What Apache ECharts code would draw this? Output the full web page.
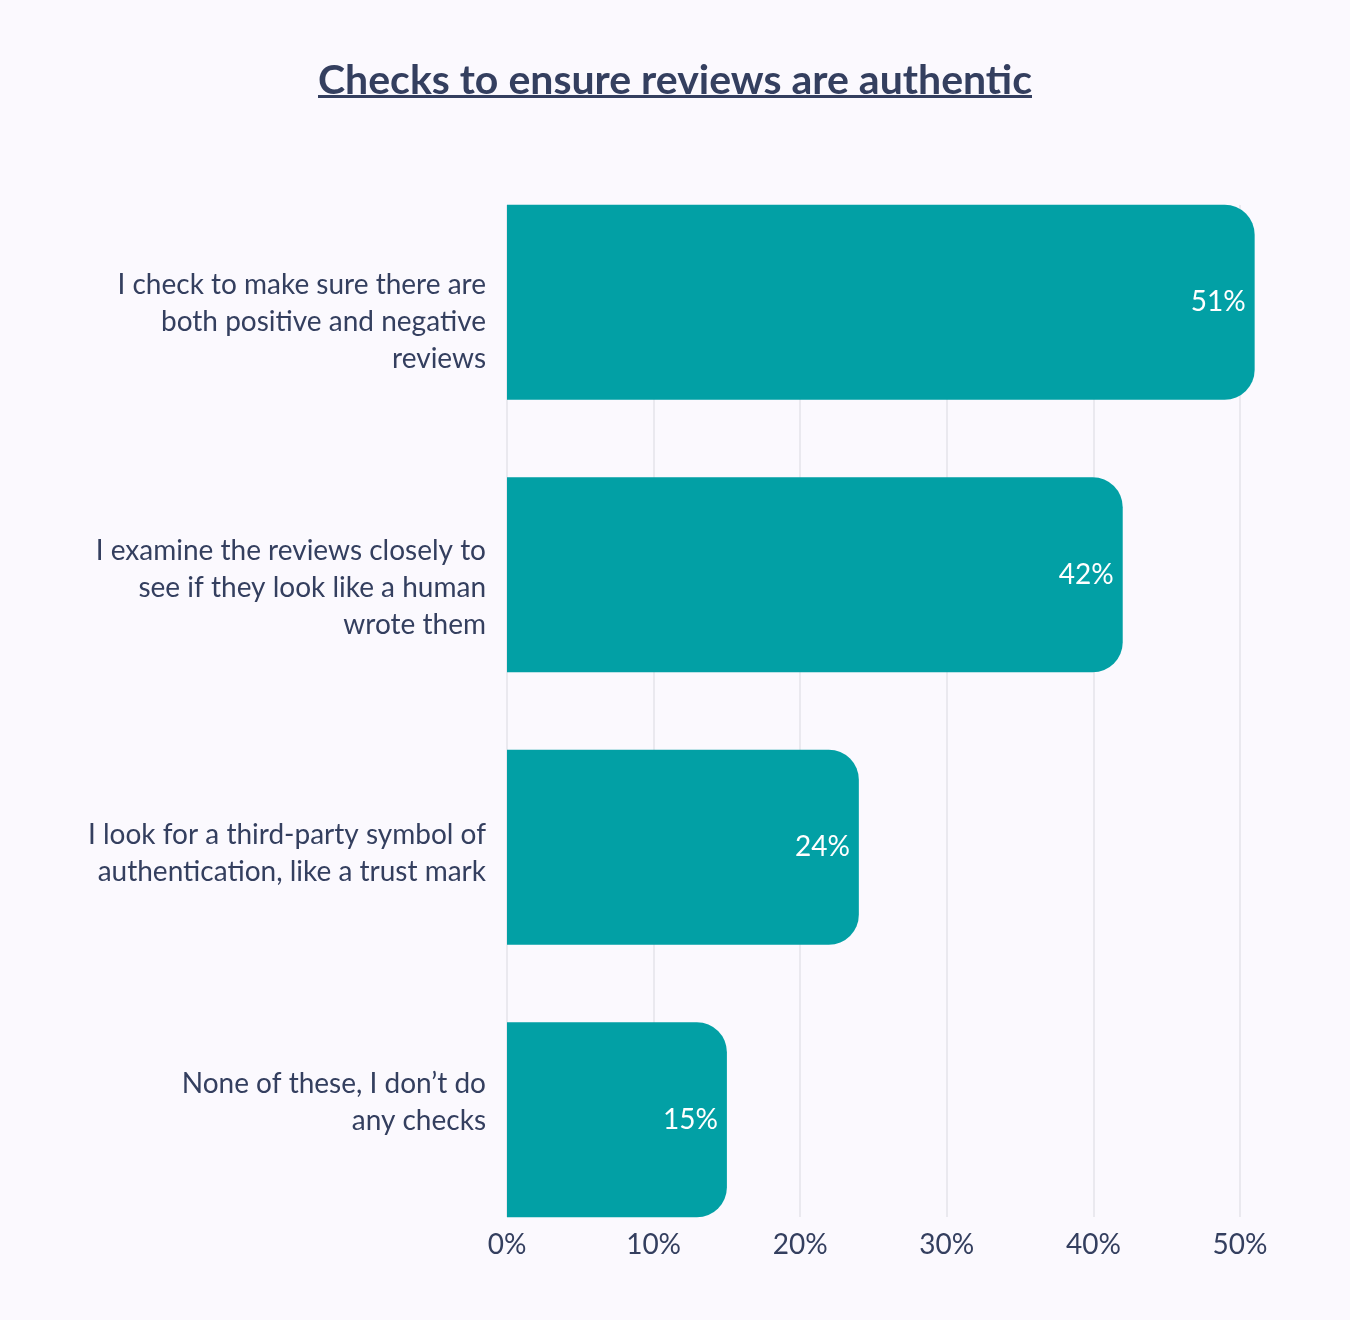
<!DOCTYPE html>
<html>
<head>
<meta charset="utf-8">
<script src="https://cdn.jsdelivr.net/npm/echarts@6/dist/echarts.min.js"></script>
<style>
  html, body { margin:0; padding:0; background:#fbf9fe; }
  #chart { width:1350px; height:1320px; }
</style>
</head>
<body>
<div id="chart"></div>
<script>
let titleText = 'Checks to ensure reviews are authentic';
let categories = [
    'I check to make sure there are\nboth positive and negative\nreviews',
    'I examine the reviews closely to\nsee if they look like a human\nwrote them',
    'I look for a third-party symbol of\nauthentication, like a trust mark',
    'None of these, I don\u2019t do\nany checks'
];
let values = [51, 42, 24, 15];
let tickValues = [0, 10, 20, 30, 40, 50];

let textColor = '#343f5f';
let barColor = '#02a0a5';
let fontFamily = 'Lato, "Open Sans", sans-serif';
// labels in the original don't sit exactly on the bar centre (px, + = down)
let labelShift = [20, 13, 6, -17];

// measure title so the underline matches its width
let cv = document.createElement('canvas').getContext('2d');
cv.font = 'bold 41px ' + fontFamily;
let titleWidth = Math.round(cv.measureText(titleText).width);

// an empty spacer line above/below the label nudges it off centre
let gapRich = {};
labelShift.forEach((s, i) => {
    gapRich['g' + i] = { height:Math.abs(s) * 2, lineHeight:Math.abs(s) * 2, fontSize:2 };
});

let myChart = echarts.init(document.getElementById('chart'));
let option = {
    backgroundColor:'#fbf9fe',
    title:{
        text:titleText,
        left:'center',
        top:55,
        textStyle:{
            color:textColor,
            fontSize:41,
            fontWeight:'bold',
            fontFamily
        }
    },
    graphic:[
        {
            type:'rect',
            left:'center',
            top:95,
            shape:{ width:titleWidth, height:3 },
            style:{ fill:textColor }
        }
    ],
    grid:[
        // bars
        { left:507, right:110, top:166, bottom:64 },
        // grid lines + tick labels
        { left:507, right:110, top:205, bottom:103 }
    ],
    xAxis:[
        {
            gridIndex:0,
            type:'value',
            min:0,
            max:50,
            interval:10,
            show:false
        },
        {
            gridIndex:1,
            type:'value',
            min:tickValues[0],
            max:tickValues[tickValues.length - 1],
            interval:10,
            axisLine:{ show:false },
            axisTick:{ show:false },
            axisLabel:{
                margin:14,
                color:textColor,
                fontSize:28,
                fontFamily,
                formatter:'{value}%'
            },
            splitLine:{
                show:true,
                lineStyle:{ color:'#e4e3ea', width:1.5 }
            }
        }
    ],
    yAxis:[
        {
            gridIndex:0,
            type:'category',
            inverse:true,
            data:categories,
            axisLine:{ show:false },
            axisTick:{ show:false },
            axisLabel:{
                margin:21,
                color:textColor,
                fontSize:28,
                lineHeight:37,
                align:'right',
                fontFamily,
                formatter:(value, index)=>{
                    let gap = '{g' + index + '| }';
                    return labelShift[index] > 0 ? gap + '\n' + value : value + '\n' + gap;
                },
                rich:gapRich
            }
        },
        {
            gridIndex:1,
            type:'value',
            show:false,
            min:0,
            max:1
        }
    ],
    series:[
        {
            type:'bar',
            xAxisIndex:0,
            yAxisIndex:0,
            data:values,
            barWidth:195,
            clip:false,
            itemStyle:{
                color:barColor,
                borderRadius:[0, 30, 30, 0]
            },
            label:{
                show:true,
                position:'insideRight',
                distance:9,
                color:'#ffffff',
                fontSize:28,
                fontFamily,
                formatter:'{c}%'
            }
        }
    ]
};
myChart.setOption(option);
</script>
</body>
</html>
